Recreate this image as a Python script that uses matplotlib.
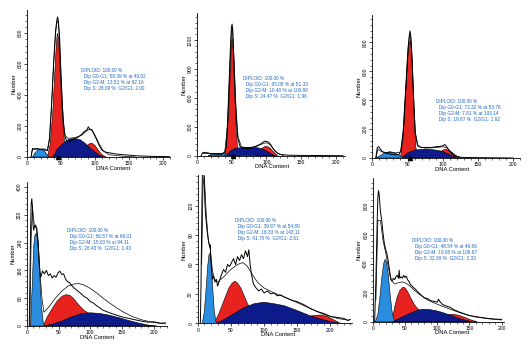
import numpy as np
import matplotlib
matplotlib.use("Agg")
import matplotlib.pyplot as plt
from matplotlib.ticker import AutoMinorLocator

plt.rcParams['font.family'] = ['Liberation Sans', 'DejaVu Sans']

RED = '#e8231f'
NAVY = '#0c1a8a'
LIGHT = '#2a8de0'
TXT = '#1f66c4'

# ---- panel 1 (top left) ----
p1_hist_x = [6, 8, 10, 15, 20, 25, 30, 33, 36, 39, 42, 44, 45, 46, 48, 50, 52, 54, 56, 58, 62, 66, 70, 75, 80,
             84, 88, 90, 92, 95, 98, 102, 106, 110, 115, 120, 130, 140, 150, 160, 170, 185, 200, 210]
p1_hist_y = [0, 55, 52, 55, 50, 52, 42, 120, 330, 600, 820, 890, 905, 880, 760, 520, 330, 190, 130, 105, 100,
             108, 120, 128, 145, 165, 175, 195, 180, 178, 150, 115, 75, 45, 32, 28, 20, 15, 12, 8, 6, 4, 3, 2]
p1_fit_x = [6, 8, 20, 30, 33, 36, 39, 42, 44, 45.5, 47, 50, 53, 56, 60, 70, 80, 88, 92, 96, 100, 106, 112, 120, 140, 160]
p1_fit_y = [0, 50, 50, 40, 110, 320, 590, 800, 870, 880, 820, 520, 250, 140, 120, 125, 140, 170, 180, 170, 140, 85, 40, 15, 5, 0]
p1_deb_x = [8, 12, 16, 20, 24, 28, 32]
p1_deb_y = [0, 28, 45, 50, 46, 25, 0]
p1_g1_x = [30, 34, 38, 41, 43, 44.5, 46, 48, 50, 53, 56, 60]
p1_g1_y = [0, 80, 300, 560, 720, 800, 780, 620, 420, 200, 60, 0]
p1_s_x = [38, 45, 55, 62, 70, 78, 85, 92, 100, 106, 112]
p1_s_y = [0, 55, 95, 115, 120, 112, 90, 60, 32, 12, 0]
p1_g2_x = [80, 85, 90, 95, 100, 105, 110, 116]
p1_g2_y = [0, 50, 82, 90, 74, 42, 15, 0]

# ---- panel 2 (top middle) ----
p2_hist_x = [6, 8, 12, 16, 20, 25, 30, 35, 40, 42, 44, 46, 48, 49.5, 50.5, 51.5, 53, 55, 57, 59, 62, 66, 70, 75,
             80, 85, 90, 94, 97, 100, 103, 106, 109, 112, 116, 120, 130, 140, 150, 170, 190, 210]
p2_hist_y = [0, 30, 35, 28, 22, 18, 15, 15, 30, 100, 350, 720, 1100, 1330, 1365, 1300, 1000, 620, 330, 170, 95,
             80, 72, 75, 85, 100, 115, 135, 150, 148, 140, 115, 80, 50, 25, 12, 6, 4, 3, 2, 1, 0]
p2_fit_x = [8, 20, 35, 40, 44, 47, 49.5, 51, 53, 56, 59, 64, 75, 85, 95, 100, 105, 110, 116, 125]
p2_fit_y = [25, 22, 20, 40, 320, 850, 1290, 1330, 1050, 520, 200, 90, 85, 95, 125, 135, 115, 70, 25, 0]
p2_deb_x = [16, 22, 30, 38, 44, 48]
p2_deb_y = [0, 18, 24, 22, 12, 0]
p2_g1_x = [40, 43, 46, 48, 49.5, 50.5, 52, 54, 56, 58, 62]
p2_g1_y = [0, 150, 520, 900, 1150, 1220, 1100, 720, 320, 110, 0]
p2_s_x = [42, 48, 55, 65, 75, 85, 92, 100, 106, 112]
p2_s_y = [0, 50, 75, 85, 88, 85, 75, 50, 22, 0]
p2_g2_x = [85, 90, 95, 100, 105, 110, 116]
p2_g2_y = [0, 45, 85, 100, 80, 40, 0]

# ---- panel 3 (top right) ----
p3_hist_x = [5, 7, 9, 11, 14, 18, 22, 28, 34, 38, 41, 44, 47, 50, 52, 53.5, 55, 57, 59, 61, 64, 68, 72, 78, 84,
             90, 96, 100, 103, 106, 110, 114, 118, 124, 130, 140, 160, 180, 200]
p3_hist_y = [0, 70, 78, 65, 45, 35, 30, 25, 22, 25, 60, 200, 450, 700, 830, 880, 830, 620, 360, 170, 90, 75, 72,
             74, 72, 78, 80, 85, 93, 75, 45, 25, 12, 6, 4, 3, 2, 1, 0]
p3_fit_x = [5, 8, 14, 22, 32, 40, 44, 48, 51, 53.5, 56, 58, 61, 65, 75, 90, 100, 105, 110, 118, 126]
p3_fit_y = [0, 60, 42, 38, 35, 40, 180, 520, 780, 860, 740, 500, 180, 80, 68, 72, 78, 72, 50, 18, 0]
p3_deb_x = [5, 12, 18, 25, 32, 40, 46]
p3_deb_y = [0, 18, 36, 44, 36, 14, 0]
p3_g1_x = [40, 44, 47, 50, 52, 54, 56, 58, 60, 62, 65]
p3_g1_y = [0, 150, 420, 680, 790, 815, 720, 470, 220, 70, 0]
p3_s_x = [42, 50, 60, 70, 80, 90, 100, 108, 115, 120]
p3_s_y = [0, 35, 55, 60, 60, 55, 45, 28, 10, 0]
p3_g2_x = [88, 95, 100, 104, 110, 117, 125]
p3_g2_y = [0, 35, 55, 60, 50, 20, 0]

# ---- panel 4 (bottom left) ----
p4_hist_x = [4, 5, 6, 7, 8, 9, 10, 11, 12, 14, 16, 18, 20, 22, 25, 28, 31, 34, 37, 40, 43, 46, 49, 52, 55, 58,
             61, 64, 67, 70, 74, 78, 82, 86, 90, 95, 100, 105, 110, 115, 120, 125, 130, 140, 150, 160, 170, 180,
             190, 200, 210, 218]
p4_hist_y = [0, 120, 260, 350, 366, 345, 290, 275, 285, 290, 280, 240, 170, 140, 158, 150, 160, 145, 150, 138,
             145, 140, 152, 158, 148, 150, 135, 128, 125, 118, 110, 104, 98, 92, 85, 80, 70, 66, 58, 52, 45, 42,
             38, 32, 26, 22, 18, 14, 11, 12, 8, 9]
p4_fit_x = [5, 7, 9, 12, 15, 18, 21, 24, 27, 35, 45, 55, 65, 75, 82, 90, 100, 110, 120, 135, 150, 165, 180, 200, 218]
p4_fit_y = [0, 250, 340, 290, 280, 240, 150, 80, 40, 55, 80, 100, 115, 121, 122, 118, 108, 95, 80, 60, 42, 28, 18, 10, 6]
p4_deb_x = [6, 9, 11, 13, 15, 17, 19, 21, 23, 26, 28]
p4_deb_y = [0, 130, 230, 262, 266, 250, 200, 130, 60, 10, 0]
p4_g1_x = [26, 32, 40, 48, 56, 62, 68, 74, 82, 90, 98, 104, 115, 125]
p4_g1_y = [0, 25, 50, 72, 86, 90, 88, 78, 60, 45, 36, 28, 15, 0]
p4_s_x = [25, 40, 55, 70, 85, 100, 115, 130, 145, 160, 175, 190, 205]
p4_s_y = [0, 5, 14, 26, 35, 38, 36, 31, 24, 16, 9, 3, 0]
p4_g2_x = []
p4_g2_y = []

# ---- panel 5 (bottom middle) ----
p5_hist_x = [4, 5, 6, 7, 8, 9, 10, 11, 12, 14, 16, 18, 19, 20, 22, 24, 26, 28, 30, 33, 36, 39, 42, 45, 48, 51,
             54, 57, 60, 63, 66, 69, 72, 75, 77, 79, 81, 84, 88, 92, 96, 100, 105, 110, 115, 120, 125, 130, 140,
             150, 160, 170, 180, 190, 200, 210, 220, 226, 230]
p5_hist_y = [0, 40, 100, 150, 160, 160, 140, 120, 110, 95, 85, 78, 80, 62, 45, 48, 42, 45, 38, 44, 50, 55, 52,
             60, 58, 62, 66, 60, 68, 64, 70, 66, 74, 68, 75, 60, 50, 40, 36, 33, 35, 31, 33, 30, 31, 28, 29, 27,
             24, 22, 19, 15, 12, 10, 7, 6, 5, 3, 4]
p5_fit_x = [6, 8, 10, 13, 16, 19, 22, 25, 30, 40, 50, 60, 68, 75, 82, 90, 100, 115, 130, 150, 170, 190, 210, 228]
p5_fit_y = [60, 140, 150, 110, 85, 75, 55, 45, 42, 48, 55, 60, 62, 58, 50, 42, 36, 31, 27, 21, 15, 9, 5, 3]
p5_deb_x = [7, 10, 13, 15, 17, 19, 21, 23, 25, 28]
p5_deb_y = [0, 12, 38, 58, 70, 72, 58, 32, 12, 0]
p5_g1_x = [25, 32, 40, 47, 52, 56, 60, 65, 70, 75, 80, 88, 96]
p5_g1_y = [0, 10, 24, 36, 41, 43, 41, 36, 28, 20, 14, 8, 0]
p5_s_x = [28, 40, 55, 70, 85, 100, 115, 130, 150, 170, 190, 205, 215]
p5_s_y = [0, 4, 10, 16, 20, 21.5, 20, 18, 13, 7.5, 3.5, 1, 0]
p5_g2_x = [140, 160, 175, 185, 195, 205, 215]
p5_g2_y = [0, 6, 8, 8.5, 7, 3.5, 0]

# ---- panel 6 (bottom right) ----
p6_hist_x = [3, 5, 7, 8, 9, 10, 11, 12, 14, 16, 18, 20, 22, 24, 26, 28, 30, 32, 34, 36, 38, 40, 41, 42, 44, 46,
             48, 50, 52, 54, 56, 58, 62, 66, 70, 75, 80, 85, 90, 95, 100, 102, 104, 108, 112, 116, 120, 125, 130,
             135, 140, 150, 160, 170, 180, 190, 200]
p6_hist_y = [0, 300, 700, 860, 905, 880, 820, 760, 700, 610, 540, 500, 470, 420, 360, 300, 280, 300, 290, 310,
             320, 300, 355, 300, 310, 300, 320, 305, 315, 290, 280, 260, 240, 225, 205, 185, 165, 160, 145, 140,
             135, 155, 140, 120, 112, 105, 100, 85, 75, 65, 58, 42, 35, 28, 22, 18, 16]
p6_fit_x = [5, 8, 12, 16, 20, 24, 28, 34, 40, 46, 52, 58, 65, 75, 85, 95, 105, 115, 125, 140, 160, 180, 200]
p6_fit_y = [150, 700, 700, 560, 480, 380, 290, 260, 270, 275, 265, 245, 215, 180, 150, 130, 112, 95, 78, 55, 32, 20, 12]
p6_deb_x = [4, 8, 11, 14, 17, 19, 21, 24, 27, 30, 34]
p6_deb_y = [0, 50, 160, 300, 400, 430, 415, 330, 190, 70, 0]
p6_g1_x = [30, 34, 38, 42, 46, 48, 51, 55, 60, 65, 70, 76, 84, 92]
p6_g1_y = [0, 100, 170, 215, 235, 238, 230, 200, 155, 115, 88, 70, 40, 0]
p6_s_x = [30, 40, 50, 60, 70, 78, 88, 98, 108, 118, 130, 142, 153]
p6_s_y = [0, 20, 42, 62, 80, 86, 84, 76, 64, 48, 28, 12, 0]
p6_g2_x = [95, 105, 115, 125, 135, 145, 155, 162]
p6_g2_y = [0, 30, 48, 52, 42, 25, 8, 0]

# ModFit report text
g0g1_pct = ['58.39', '65.05', '72.32', '56.57', '39.97', '48.54']
g0g1_at = ['46.02', '51.33', '53.76', '66.01', '54.80', '46.66']
g2m_pct = ['13.51', '10.48', '7.81', '15.00', '18.33', '19.08']
g2m_at = ['92.16', '100.86', '103.14', '94.11', '143.11', '108.67']
s_pct = ['28.09', '24.47', '19.87', '28.43', '41.70', '32.38']
g2g1 = ['2.00', '1.96', '1.92', '1.43', '2.61', '2.33']

y_ticks = [[0, 200, 400, 600, 800], [0, 300, 600, 900, 1200], [0, 200, 400, 600, 800],
           [0, 80, 160, 240, 320, 400], [0, 30, 60, 90, 120], [0, 200, 400, 600, 800]]
y_top = [950, 1480, 990, 414, 151, 990]
x_right = [210, 213, 210, 220, 232, 204]
x_ticks = [0, 50, 100, 150, 200]

# axes boxes in pixels: left, bottom(zero line from top), width, height
W, H = 531, 351
boxes = [(27, 157, 143, 147), (197, 155.7, 148, 142.7), (372.3, 158, 148, 143),
         (26.7, 326, 140, 144), (197.7, 323.3, 154, 148), (372.7, 321.7, 131.6, 143.4)]
text_pos = [(0.378, 0.605), (0.31, 0.558), (0.43, 0.413), (0.288, 0.68), (0.242, 0.71), (0.30, 0.584)]
xlab_pos = [0.6, 0.51, 0.54, 0.5, 0.52, 0.6]

panels = [
    (p1_hist_x, p1_hist_y, p1_fit_x, p1_fit_y, p1_deb_x, p1_deb_y, p1_g1_x, p1_g1_y, p1_s_x, p1_s_y, p1_g2_x, p1_g2_y),
    (p2_hist_x, p2_hist_y, p2_fit_x, p2_fit_y, p2_deb_x, p2_deb_y, p2_g1_x, p2_g1_y, p2_s_x, p2_s_y, p2_g2_x, p2_g2_y),
    (p3_hist_x, p3_hist_y, p3_fit_x, p3_fit_y, p3_deb_x, p3_deb_y, p3_g1_x, p3_g1_y, p3_s_x, p3_s_y, p3_g2_x, p3_g2_y),
    (p4_hist_x, p4_hist_y, p4_fit_x, p4_fit_y, p4_deb_x, p4_deb_y, p4_g1_x, p4_g1_y, p4_s_x, p4_s_y, p4_g2_x, p4_g2_y),
    (p5_hist_x, p5_hist_y, p5_fit_x, p5_fit_y, p5_deb_x, p5_deb_y, p5_g1_x, p5_g1_y, p5_s_x, p5_s_y, p5_g2_x, p5_g2_y),
    (p6_hist_x, p6_hist_y, p6_fit_x, p6_fit_y, p6_deb_x, p6_deb_y, p6_g1_x, p6_g1_y, p6_s_x, p6_s_y, p6_g2_x, p6_g2_y),
]

fig = plt.figure(figsize=(W / 100, H / 100), dpi=100)

for i, (hx, hy, fx, fy, dx, dy, gx, gy, sx, sy, g2x, g2y) in enumerate(panels):
    l, b, w, h = boxes[i]
    ax = fig.add_axes([l / W, 1 - b / H, w / W, h / H])

    ax.fill(gx, gy, facecolor=RED, edgecolor='black', lw=0.4)
    if len(g2x):
        ax.fill(g2x, g2y, facecolor=RED, edgecolor='black', lw=0.4)
    ax.fill(sx, sy, facecolor=NAVY, edgecolor='black', lw=0.4)
    ax.fill(dx, dy, facecolor=LIGHT, edgecolor='black', lw=0.4)
    ax.plot(fx, fy, color='black', lw=0.5)
    ax.plot(hx, hy, color='black', lw=0.7)

    if i < 3:
        ax.plot([float(g0g1_at[i])], [0], marker='^', ms=3, color='black', clip_on=False, zorder=5)

    txt = ('DIPLOID: 100.00 %\n'
           '  Dip G0-G1: ' + g0g1_pct[i] + ' % at ' + g0g1_at[i] + '\n'
           '  Dip G2-M: ' + g2m_pct[i] + ' % at ' + g2m_at[i] + '\n'
           '  Dip S: ' + s_pct[i] + ' %  G2/G1: ' + g2g1[i])
    ax.text(text_pos[i][0], text_pos[i][1], txt, transform=ax.transAxes, fontsize=3.4,
            color=TXT, va='top', ha='left', linespacing=1.25)

    ax.set_xlim(0, x_right[i])
    ax.set_ylim(0, y_top[i])
    ax.set_xticks(x_ticks)
    ax.set_yticks(y_ticks[i])
    ax.xaxis.set_minor_locator(AutoMinorLocator(5))
    ax.yaxis.set_minor_locator(AutoMinorLocator(5))
    ax.tick_params(which='major', length=2.2, width=0.5, labelsize=3.6, pad=1)
    ax.tick_params(which='minor', length=1.1, width=0.4)
    for lab in ax.get_yticklabels():
        lab.set_rotation(90)
        lab.set_va('center')
    ax.spines['top'].set_visible(False)
    ax.spines['right'].set_visible(False)
    ax.spines['left'].set_linewidth(0.6)
    ax.spines['bottom'].set_linewidth(0.6)
    ax.patch.set_alpha(0)
    ax.set_xlabel('DNA Content', fontsize=4.2, labelpad=0)
    ax.xaxis.set_label_coords(xlab_pos[i], -0.06)
    ax.set_ylabel('Number', fontsize=4.2, labelpad=1)

fig.savefig('out.png', dpi=100)
